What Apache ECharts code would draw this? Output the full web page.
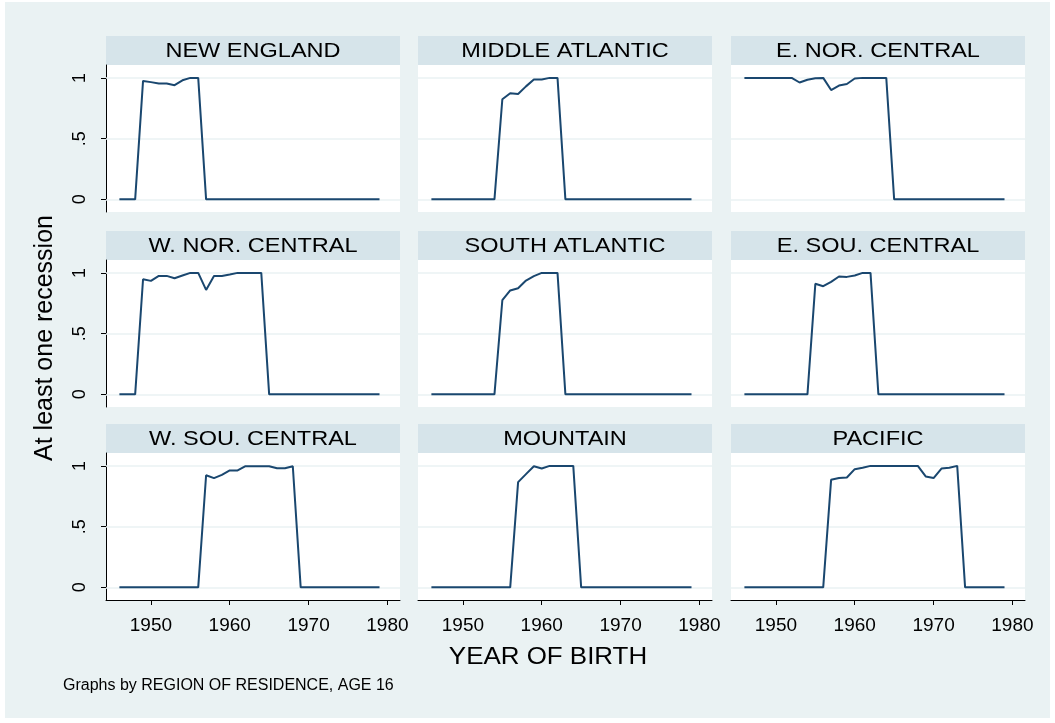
<!DOCTYPE html>
<html>
<head>
<meta charset="utf-8">
<script src="https://cdn.jsdelivr.net/npm/echarts@6/dist/echarts.min.js"></script>
<style>
  html, body { margin: 0; padding: 0; background: #fff; }
  #chart { width: 1055px; height: 723px; }
</style>
</head>
<body>
<div id="chart"></div>
<script>
// year of birth, 1946..1979
var years = [1946, 1947, 1948, 1949, 1950, 1951, 1952, 1953, 1954, 1955,
             1956, 1957, 1958, 1959, 1960, 1961, 1962, 1963, 1964, 1965,
             1966, 1967, 1968, 1969, 1970, 1971, 1972, 1973, 1974, 1975,
             1976, 1977, 1978, 1979];

var regions = ['NEW ENGLAND', 'MIDDLE ATLANTIC', 'E. NOR. CENTRAL',
               'W. NOR. CENTRAL', 'SOUTH ATLANTIC', 'E. SOU. CENTRAL',
               'W. SOU. CENTRAL', 'MOUNTAIN', 'PACIFIC'];

var xTicks = [1950, 1960, 1970, 1980];
var yTicks = [0, 0.5, 1];
var yTickLabels = ['0', '.5', '1'];

// share with at least one recession, by region
var newEngland     = [0, 0, 0, .975, .965, .953, .953, .94, .98, 1, 1, 0, 0, 0, 0, 0, 0, 0, 0, 0, 0, 0, 0, 0, 0, 0, 0, 0, 0, 0, 0, 0, 0, 0];
var middleAtlantic = [0, 0, 0, 0, 0, 0, 0, 0, 0, .824, .874, .868, .93, .986, .986, 1, 1, 0, 0, 0, 0, 0, 0, 0, 0, 0, 0, 0, 0, 0, 0, 0, 0, 0];
var eNorCentral    = [1, 1, 1, 1, 1, 1, 1, .962, .984, .997, 1, .90, .937, .95, .995, 1, 1, 1, 1, 0, 0, 0, 0, 0, 0, 0, 0, 0, 0, 0, 0, 0, 0, 0];
var wNorCentral    = [0, 0, 0, .948, .934, .975, .975, .956, .978, 1, 1, .86, .975, .975, .986, 1, 1, 1, 1, 0, 0, 0, 0, 0, 0, 0, 0, 0, 0, 0, 0, 0, 0, 0];
var southAtlantic  = [0, 0, 0, 0, 0, 0, 0, 0, 0, .775, .855, .874, .937, .973, 1, 1, 1, 0, 0, 0, 0, 0, 0, 0, 0, 0, 0, 0, 0, 0, 0, 0, 0, 0];
var eSouCentral    = [0, 0, 0, 0, 0, 0, 0, 0, 0, .91, .89, .926, .97, .967, .978, 1, 1, 0, 0, 0, 0, 0, 0, 0, 0, 0, 0, 0, 0, 0, 0, 0, 0, 0];
var wSouCentral    = [0, 0, 0, 0, 0, 0, 0, 0, 0, 0, 0, .923, .899, .926, .962, .962, .997, .997, .997, .997, .98, .98, .997, 0, 0, 0, 0, 0, 0, 0, 0, 0, 0, 0];
var mountain       = [0, 0, 0, 0, 0, 0, 0, 0, 0, 0, 0, .866, .932, .997, .978, 1, 1, 1, 1, 0, 0, 0, 0, 0, 0, 0, 0, 0, 0, 0, 0, 0, 0, 0];
var pacific        = [0, 0, 0, 0, 0, 0, 0, 0, 0, 0, 0, .885, .90, .904, .973, .984, 1, 1, 1, 1, 1, 1, 1, .913, .90, .978, .984, 1, 0, 0, 0, 0, 0, 0];

var seriesValues = [newEngland, middleAtlantic, eNorCentral,
                    wNorCentral, southAtlantic, eSouCentral,
                    wSouCentral, mountain, pacific];

// layout
var FONT = '"Liberation Sans", Arial, sans-serif';
var colLeft = [106, 418, 731];
var colWidth = 294;
var stripTop = [36, 231, 424];
var stripH = 29;
var plotH = 147;

var chart = echarts.init(document.getElementById('chart'));

var grids = [], xAxes = [], yAxes = [], series = [];
var graphics = [
    { type: 'rect', z: -100, silent: true,
      shape: { x: 5, y: 2, width: 1045, height: 716 },
      style: { fill: '#EAF2F3' } }
];

for (var i = 0; i < 9; i++) {
    var r = Math.floor(i / 3), c = i % 3;
    var gridTop = stripTop[r] + stripH;   // note: not "top", that one is window.top

    grids.push({
        left: colLeft[c], top: gridTop, width: colWidth, height: plotH,
        show: true, backgroundColor: '#fff', borderWidth: 0
    });

    var bottomRow = r === 2;
    xAxes.push({
        gridIndex: i, type: 'value', min: 1944.3, max: 1981.6,
        axisLine: { show: bottomRow, onZero: false, lineStyle: { color: '#000', width: 1 } },
        axisTick: { show: bottomRow, length: 5, customValues: xTicks.slice(), lineStyle: { color: '#000' } },
        axisLabel: { show: bottomRow, customValues: xTicks.slice(), margin: 16,
                     color: '#000', fontSize: 19, fontFamily: FONT,
                     formatter: function (v) { return String(v); } },
        splitLine: { show: false }
    });

    var leftCol = c === 0;
    yAxes.push({
        gridIndex: i, type: 'value', min: -0.104, max: 1.106,
        axisLine: { show: leftCol, lineStyle: { color: '#000', width: 1 } },
        axisTick: { show: leftCol, length: 5, customValues: yTicks.slice(), lineStyle: { color: '#000' } },
        axisLabel: { show: leftCol, customValues: yTicks.slice(), rotate: 90, margin: 17,
                     color: '#000', fontSize: 18, fontFamily: FONT,
                     formatter: function (v) {
                         var k = yTicks.indexOf(v);
                         return k >= 0 ? yTickLabels[k] : '';
                     } },
        splitLine: { show: false }
    });

    var vals = seriesValues[i];
    series.push({
        type: 'line', xAxisIndex: i, yAxisIndex: i,
        data: years.map(function (y, k) { return [y, vals[k]]; }),
        showSymbol: false, symbol: 'none', z: 3,
        lineStyle: { color: '#1A476F', width: 2 },
        // gridlines at 0, .5, 1
        markLine: {
            silent: true, symbol: 'none', z: 1, animation: false,
            label: { show: false },
            lineStyle: { color: '#EAF2F3', width: 1.5, type: 'solid' },
            data: yTicks.map(function (t) { return { yAxis: t }; })
        }
    });

    graphics.push({
        type: 'rect', silent: true,
        shape: { x: colLeft[c], y: stripTop[r], width: colWidth, height: stripH },
        style: { fill: '#D6E4EA' }
    });
    graphics.push({
        type: 'text', silent: true, scaleX: 1.12,
        x: colLeft[c] + colWidth / 2, y: stripTop[r] + stripH / 2 + 1,
        style: { text: regions[i], fill: '#000', font: '21px ' + FONT,
                 align: 'center', verticalAlign: 'middle' }
    });
}

graphics.push({
    type: 'text', silent: true, x: 45, y: 338, rotation: Math.PI / 2,
    style: { text: 'At least one recession', fill: '#000', font: '25px ' + FONT,
             align: 'center', verticalAlign: 'middle' }
});
graphics.push({
    type: 'text', silent: true, x: 548, y: 657, scaleX: 1.08,
    style: { text: 'YEAR OF BIRTH', fill: '#000', font: '24px ' + FONT,
             align: 'center', verticalAlign: 'middle' }
});
graphics.push({
    type: 'text', silent: true, x: 63, y: 686,
    style: { text: 'Graphs by REGION OF RESIDENCE, AGE 16', fill: '#000', font: '16px ' + FONT,
             align: 'left', verticalAlign: 'middle' }
});

chart.setOption({
    animation: false,
    grid: grids,
    xAxis: xAxes,
    yAxis: yAxes,
    series: series,
    graphic: graphics
});
</script>
</body>
</html>
